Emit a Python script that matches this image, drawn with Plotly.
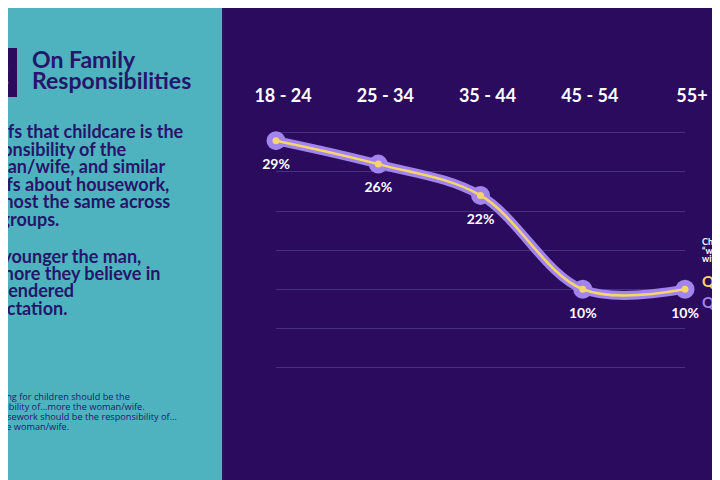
import plotly.graph_objects as go

# chart data
age_groups = ["18 - 24", "25 - 34", "35 - 44", "45 - 54", "55+"]
childcare = [29, 26, 22, 10, 10]
housework = [29, 26, 22, 10, 10]

heading = ["On Family", "Responsibilities"]
para1 = ["Beliefs that childcare is the", "responsibility of the", "woman/wife, and similar",
         "beliefs about housework,", "is almost the same across", "age groups."]
para2 = ["The younger the man,", "the more they believe in", "the gendered", "expectation."]
notes = ["Q1. Caring for children should be the", "responsibility of...more the woman/wife.",
         "Q2. Housework should be the responsibility of...", "more the woman/wife."]
legend_title = ["Chart shows % who said", "\u201cwoman/wife\u201d or \u201cmore the", "with their answer"]
legend_items = ["Q1 Childcare", "Q2 Housework"]

W, H = 720, 480
OFF = 8  # page has an 8px body margin
BG = "#2a0b5e"
TEAL = "#4fb3bf"
NAVY = "#24166a"
LAV = "#a184ec"
YEL = "#f6d66c"


def px(x):
    return (x - OFF) / W


def py(y):
    return (H - (y - OFF)) / H


fig = go.Figure()
fig.add_trace(go.Scatter(
    x=age_groups, y=housework, name=legend_items[1], mode="lines+markers",
    line=dict(color=LAV, width=9, shape="spline"),
    marker=dict(size=19, color=LAV),
    cliponaxis=False, showlegend=False))
fig.add_trace(go.Scatter(
    x=age_groups, y=childcare, name=legend_items[0], mode="lines+markers",
    line=dict(color=YEL, width=2.5, shape="spline"),
    marker=dict(size=7, color=YEL),
    cliponaxis=False, showlegend=False))
# value labels
fig.add_trace(go.Scatter(
    x=age_groups, y=housework, mode="markers+text",
    marker=dict(size=27, opacity=0),
    texttemplate="%{y}%", textposition="bottom center",
    textfont=dict(family="Lato", size=14, color="white", weight="bold"),
    cliponaxis=False, showlegend=False, hoverinfo="skip"))

shapes = [
    dict(type="rect", xref="paper", yref="paper", x0=-0.05, x1=px(222), y0=-0.05, y1=1.05,
         fillcolor=TEAL, line_width=0, layer="below"),
    dict(type="line", xref="paper", yref="paper", x0=px(223), x1=px(223), y0=-0.05, y1=1.05,
         line=dict(color="#1d1a6e", width=1.5), layer="below"),
    dict(type="rect", xref="paper", yref="paper", x0=-0.05, x1=px(17), y0=py(97), y1=py(48),
         fillcolor=BG, line_width=0, layer="below"),
]

ann = [
    dict(text="2", x=px(1), y=py(74), font=dict(family="Lato", size=26, color="white", weight="bold"),
         xanchor="center"),
]
for i, t in enumerate(heading):
    ann.append(dict(text=t, x=px(30), y=py(59 + i * 21.5), xanchor="left",
                    font=dict(family="Lato", size=23, color=NAVY, weight="bold")))
for i, t in enumerate(para1):
    ann.append(dict(text=t, x=px(-34), y=py(131 + i * 17.6), xanchor="left",
                    font=dict(family="Lato", size=18, color=NAVY, weight="bold")))
for i, t in enumerate(para2):
    ann.append(dict(text=t, x=px(-34), y=py(256 + i * 17.2), xanchor="left",
                    font=dict(family="Lato", size=18, color=NAVY, weight="bold")))
for i, t in enumerate(notes):
    ann.append(dict(text=t, x=px(-30), y=py(396 + i * 10), xanchor="left",
                    font=dict(family="Open Sans", size=9.2, color=NAVY)))
for i, t in enumerate(legend_title):
    ann.append(dict(text=t, x=px(700), y=py(241.5 + i * 8.5), xanchor="left",
                    font=dict(family="Lato", size=9, color="white", weight="bold")))
for i, (t, c) in enumerate(zip(legend_items, [YEL, LAV])):
    ann.append(dict(text=t, x=px(700), y=py(281 + i * 21), xanchor="left",
                    font=dict(family="Lato", size=15, color=c, weight="bold")))
for a in ann:
    a.update(xref="paper", yref="paper", showarrow=False, yanchor="middle")

fig.update_layout(
    width=W, height=H, margin=dict(l=0, r=0, t=0, b=0, autoexpand=False),
    paper_bgcolor=BG, plot_bgcolor=BG,
    shapes=shapes, annotations=ann,
    xaxis=dict(type="category", side="top", range=[0, 4], domain=[px(276), px(685)],
               showgrid=False, zeroline=False, showline=False, ticks="", automargin=False,
               tickfont=dict(family="Lato", size=18, color="white", weight="bold"),
               ticklabelstandoff=22, ticklabelshift=7),
    yaxis=dict(range=[-0.5, 30.5], dtick=5, domain=[py(371.4), py(128.9)], automargin=False,
               showticklabels=False, gridcolor="#47307f", gridwidth=1,
               zeroline=True, zerolinecolor="#47307f", zerolinewidth=1, showline=False),
)

fig.write_html("out.html")
